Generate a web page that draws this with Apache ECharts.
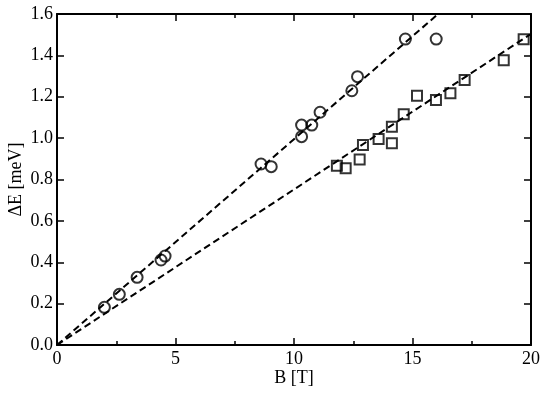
<!DOCTYPE html>
<html>
<head>
<meta charset="utf-8">
<script src="https://cdn.jsdelivr.net/npm/echarts@6/dist/echarts.min.js"></script>
<style>html,body{margin:0;padding:0;background:#fff}#c{width:550px;height:396px}</style>
</head>
<body>
<div id="c"></div>
<script>
// Circles (upper branch): [B, dE]
const circleB = [2.0, 2.63, 3.38, 4.39, 4.56, 8.61, 9.04, 10.32, 10.32, 10.75, 11.1, 12.44, 12.68, 14.7, 16.0];
const circleE = [0.182, 0.245, 0.327, 0.411, 0.43, 0.875, 0.862, 1.007, 1.063, 1.063, 1.125, 1.229, 1.297, 1.479, 1.479];
// Squares (lower branch)
const squareB = [11.81, 12.18, 12.77, 12.91, 13.57, 14.13, 14.13, 14.63, 15.19, 15.99, 16.6, 17.2, 18.85, 19.69];
const squareE = [0.867, 0.854, 0.897, 0.967, 0.996, 0.975, 1.055, 1.115, 1.205, 1.184, 1.217, 1.281, 1.377, 1.478];
// Dashed fit lines: endpoints
const fitUpperB = [0, 20];
const fitUpperE = [0, 1.99];
const fitLowerB = [0, 20];
const fitLowerE = [0, 1.504];
const xTicks = [0, 5, 10, 15, 20];
const yTicks = [0, 0.2, 0.4, 0.6, 0.8, 1.0, 1.2, 1.4, 1.6];

const zip = (a, b) => a.map((v, i) => [v, b[i]]);
const font = '"Liberation Serif", "Times New Roman", Times, serif';
const axisCommon = {
  axisLine: {show: true, onZero: false, lineStyle: {color: '#000', width: 2}},
  axisTick: {show: true, inside: true, length: 7, lineStyle: {color: '#000', width: 1.5}},
  splitLine: {show: false},
  nameMoveOverlap: false
};
const chart = echarts.init(document.getElementById('c'), null, {renderer: 'canvas'});
chart.setOption({
  animation: false,
  backgroundColor: '#fff',
  grid: {left: 57, right: 19, top: 14, bottom: 51, containLabel: false, outerBoundsMode: 'none'},
  xAxis: [
    Object.assign({}, axisCommon, {
      type: 'value', min: xTicks[0], max: xTicks[xTicks.length - 1], interval: 5, position: 'bottom',
      minorTick: {show: true, splitNumber: 2, length: 4, lineStyle: {color: '#000', width: 1.5}},
      axisLabel: {color: '#000', fontFamily: font, fontSize: 18, margin: 5},
      name: 'B [T]', nameLocation: 'middle', nameGap: 24,
      nameTextStyle: {color: '#000', fontFamily: font, fontSize: 18}
    }),
    Object.assign({}, axisCommon, {
      type: 'value', min: 0, max: 20, interval: 5, position: 'top',
      minorTick: {show: true, splitNumber: 2, length: 4, lineStyle: {color: '#000', width: 1.5}},
      axisLabel: {show: false}
    })
  ],
  yAxis: [
    Object.assign({}, axisCommon, {
      type: 'value', min: yTicks[0], max: yTicks[yTicks.length - 1], interval: 0.2, position: 'left',
      axisLabel: {color: '#000', fontFamily: font, fontSize: 18, margin: 4, formatter: v => v.toFixed(1)},
      name: 'ΔE [meV]', nameLocation: 'middle', nameGap: 32, nameRotate: 90,
      nameTextStyle: {color: '#000', fontFamily: font, fontSize: 18}
    }),
    Object.assign({}, axisCommon, {
      type: 'value', min: 0, max: 1.6, interval: 0.2, position: 'right',
      axisLabel: {show: false}
    })
  ],
  series: [
    {
      type: 'line', data: zip(fitUpperB, fitUpperE), showSymbol: false, symbol: 'none',
      lineStyle: {color: '#000', width: 2, type: [7, 4]}, clip: true, silent: true
    },
    {
      type: 'line', data: zip(fitLowerB, fitLowerE), showSymbol: false, symbol: 'none',
      lineStyle: {color: '#000', width: 2, type: [7, 4]}, clip: true, silent: true
    },
    {
      type: 'scatter', data: zip(circleB, circleE), symbol: 'circle', symbolSize: 11,
      itemStyle: {color: 'rgba(0,0,0,0)', borderColor: '#000', borderWidth: 2}
    },
    {
      type: 'scatter', data: zip(squareB, squareE), symbol: 'rect', symbolSize: 10,
      itemStyle: {color: 'rgba(0,0,0,0)', borderColor: '#000', borderWidth: 2}
    }
  ]
});
</script>
</body>
</html>
